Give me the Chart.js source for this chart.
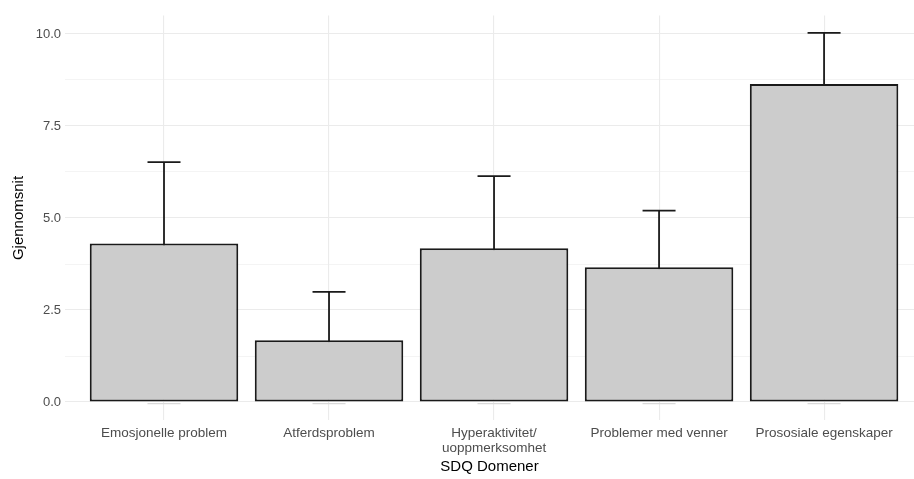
<!DOCTYPE html>
<html lang="no">
<head>
<meta charset="utf-8">
<title>SDQ Domener</title>
<script src="https://cdn.jsdelivr.net/npm/chart.js@4/dist/chart.umd.min.js"></script>
<style>
  html, body { margin: 0; padding: 0; background: #fff; }
  #wrap { width: 914px; height: 479px; }
</style>
</head>
<body>
<div id="wrap"><canvas id="c" width="914" height="479"></canvas></div>
<script>
/* ---------- data (lest av fra figuren) ---------- */
var categories = [
  'Emosjonelle problem',
  'Atferdsproblem',
  ['Hyperaktivitet/', 'uoppmerksomhet'],
  'Problemer med venner',
  'Prososiale egenskaper'
];
var means = [4.31, 1.68, 4.18, 3.66, 8.64];
var sds = [2.21, 1.31, 1.96, 1.54, 1.39];
var yTicks = [0, 2.5, 5, 7.5, 10];

var FONT = "'Liberation Sans', Arial, sans-serif";
var GRID = '#ebebeb';

/* ---------- feilstolper (tegnes under søylene, som i ggplot) ---------- */
var errorBars = {
  id: 'errorBars',
  beforeDatasetsDraw: function (chart) {
    var xs = chart.scales.x, ys = chart.scales.y, ctx = chart.ctx, a = chart.chartArea;
    ctx.save();
    ctx.beginPath(); ctx.rect(a.left, a.top, a.right - a.left, a.bottom - a.top); ctx.clip();
    ctx.lineCap = 'butt';
    means.forEach(function (m, i) {
      var x = xs.getPixelForValue(i);
      var xl = xs.getPixelForValue(i - 0.1), xr = xs.getPixelForValue(i + 0.1);
      var yTop = ys.getPixelForValue(m + sds[i]);
      var yBar = ys.getPixelForValue(m);
      var yLow = ys.getPixelForValue(0);
      ctx.strokeStyle = '#1a1a1a'; ctx.lineWidth = 1.8;
      ctx.beginPath();
      ctx.moveTo(x, yBar + 2); ctx.lineTo(x, yTop);
      ctx.moveTo(xl, yTop); ctx.lineTo(xr, yTop);
      ctx.stroke();
      // nedre strek skimtes bare så vidt under søylekanten
      ctx.strokeStyle = '#d9d9d9'; ctx.lineWidth = 1.2;
      ctx.beginPath(); ctx.moveTo(xl, yLow + 1.6); ctx.lineTo(xr, yLow + 1.6); ctx.stroke();
    });
    ctx.restore();
  }
};

new Chart(document.getElementById('c'), {
  type: 'bar',
  data: {
    datasets: [{
      data: means.map(function (v, i) { return { x: i, y: v }; }),
      backgroundColor: '#cccccc',
      borderColor: '#1a1a1a',
      borderWidth: 2,
      borderSkipped: false,
      categoryPercentage: 0.9,
      barPercentage: 1.0
    }]
  },
  plugins: [errorBars],
  options: {
    responsive: false,
    animation: false,
    layout: { padding: { top: 15.6, right: 0, bottom: 0, left: 0 } },
    plugins: { legend: { display: false }, tooltip: { enabled: false } },
    scales: {
      x: {
        type: 'linear',
        min: -0.6, max: 4.545,
        offset: false,
        border: { display: false },
        grid: { offset: false, color: GRID, lineWidth: 1.1, drawTicks: false },
        ticks: {
          stepSize: 1, autoSkip: false, maxRotation: 0, padding: 5,
          color: '#4d4d4d', font: { family: FONT, size: 13.5, lineHeight: 1.15 },
          callback: function (v) { return categories[v]; }
        },
        afterBuildTicks: function (s) {
          s.ticks = s.ticks.filter(function (t) { return Number.isInteger(t.value) && t.value >= 0 && t.value < categories.length; });
        },
        afterFit: function (s) { s.height = 479 - 420.4; },
        title: {
          display: true, text: 'SDQ Domener', color: '#000',
          font: { family: FONT, size: 15 }, padding: { top: 4, bottom: 3 }
        }
      },
      y: {
        min: -0.5, max: 10.5,
        border: { display: false },
        grid: {
          drawTicks: false,
          color: GRID,
          lineWidth: function (c) { return yTicks.indexOf(c.tick.value) >= 0 ? 1.1 : 0.55; }
        },
        ticks: {
          stepSize: 1.25, autoSkip: false, padding: 4,
          color: '#4d4d4d', font: { family: FONT, size: 13 },
          callback: function (v) { return yTicks.indexOf(v) >= 0 ? v.toFixed(1) : ''; }
        },
        afterBuildTicks: function (s) {
          s.ticks = s.ticks.filter(function (t) {
            var k = t.value / 1.25;
            return t.value >= 0 && t.value <= 10 && Math.abs(k - Math.round(k)) < 1e-6;
          });
        },
        afterFit: function (s) { s.width = 65; },
        title: {
          display: true, text: 'Gjennomsnit', color: '#000',
          font: { family: FONT, size: 15 }, padding: { top: 10, bottom: 4 }
        }
      }
    }
  }
});
</script>
</body>
</html>
